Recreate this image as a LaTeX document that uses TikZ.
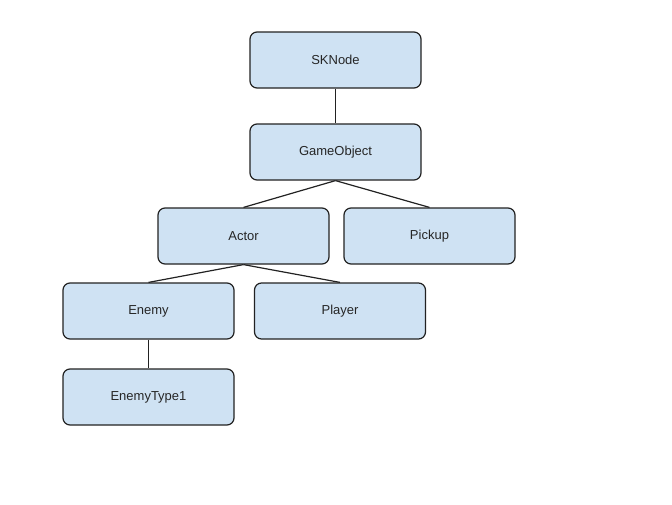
\documentclass[tikz,border=0pt]{standalone}
\usepackage{fontspec}
\setmainfont{Liberation Sans}
\usepackage{xcolor}
\definecolor{boxfill}{HTML}{CFE2F3}
\definecolor{boxline}{HTML}{222222}
\begin{document}
\begin{tikzpicture}[x=1pt, y=-1pt,
  classbox/.style={draw=boxline, fill=boxfill, line width=1.2pt, rounded corners=7pt,
    minimum width=171pt, minimum height=56pt, inner sep=0pt,
    font=\fontsize{13}{15}\selectfont, text=black!85},
  link/.style={draw=boxline, line width=1.2pt}]
  \useasboundingbox (0,0) rectangle (672,504);
  \node [classbox] (sknode) at (335.5,60) {SKNode};
  \node [classbox] (gameobject) at (335.5,152) {GameObject};
  \node [classbox] (actor) at (243.5,236) {Actor};
  \node [classbox] (pickup) at (429.5,236) {Pickup};
  \node [classbox] (enemy) at (148.5,311) {Enemy};
  \node [classbox] (player) at (340,311) {Player};
  \node [classbox] (enemytype) at (148.5,397) {EnemyType1};
  \draw [link] (sknode.south) -- (gameobject.north);
  \draw [link] (gameobject.south) -- (actor.north);
  \draw [link] (gameobject.south) -- (pickup.north);
  \draw [link] (actor.south) -- (enemy.north);
  \draw [link] (actor.south) -- (player.north);
  \draw [link] (enemy.south) -- (enemytype.north);
\end{tikzpicture}
\end{document}
